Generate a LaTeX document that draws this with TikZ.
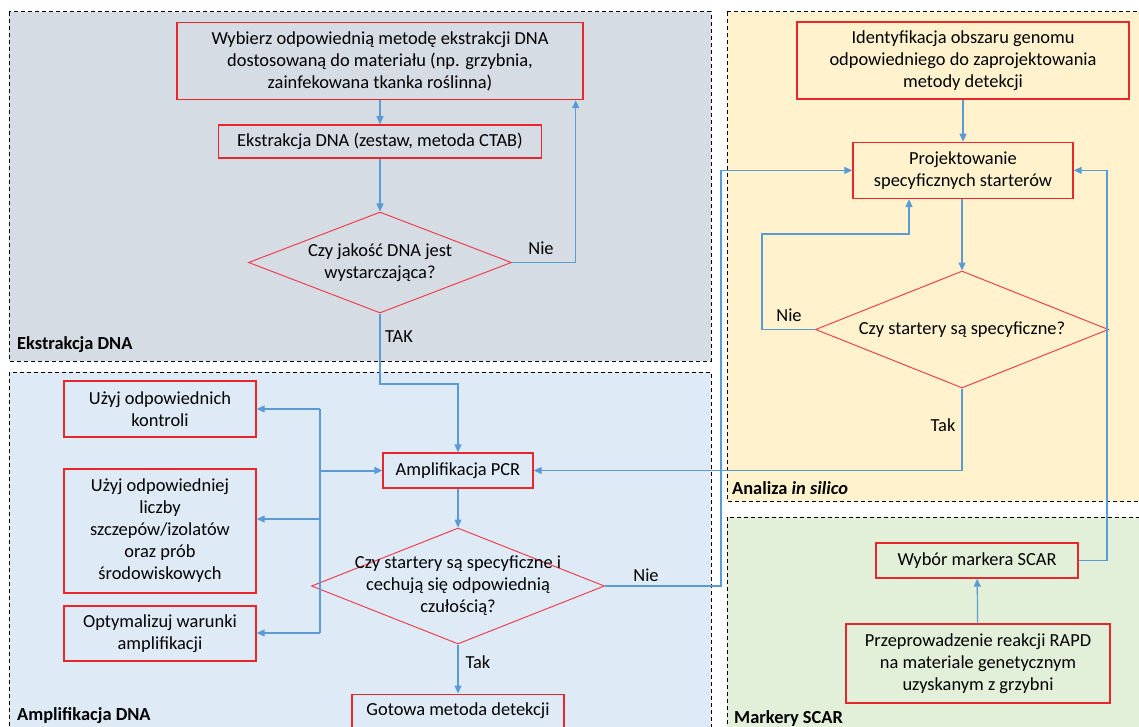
\documentclass[tikz,border=0pt]{standalone}
\usepackage{fontspec}
\setmainfont{Carlito}
\usetikzlibrary{positioning,shapes.geometric,arrows.meta}

\definecolor{ramka}{HTML}{E8262B}
\definecolor{romb}{HTML}{EE4152}
\definecolor{linia}{HTML}{5B9BD5}
\definecolor{szary}{HTML}{D5DCE4}
\definecolor{niebieski}{HTML}{DEEBF7}
\definecolor{zolty}{HTML}{FFF2CC}
\definecolor{zielony}{HTML}{E2F0D9}

\begin{document}
\begin{tikzpicture}[x=1pt, y=-1pt, >={Triangle[length=8pt,width=7pt]},
	every node/.style={font=\fontsize{18.4}{22}\selectfont},
	krok/.style={draw=ramka, line width=1.4pt, align=center, inner sep=0pt},
	pytanie/.style={draw=romb, line width=1pt, diamond, inner sep=0pt},
	panel/.style={draw=black, line width=1pt, dash pattern=on 4pt off 3pt},
	tytul/.style={anchor=west, inner sep=0pt, font=\fontsize{18.4}{22}\selectfont\bfseries},
	opis/.style={inner sep=0pt}]
			
			\useasboundingbox (0,0) rectangle (1139,727);
			\clip (0,0) rectangle (1139,727);
			
			% tła paneli
			\draw[panel, fill=szary] (9,12) rectangle (711,361);
			\draw[panel, fill=niebieski] (9,372) rectangle (711,745);
			\draw[panel, fill=zolty] (727,12) rectangle (1150,501);
			\draw[panel, fill=zielony] (727,517) rectangle (1150,745);
			
			% tytuły paneli
			\node[tytul] (tEkstr) at (17,345) {Ekstrakcja DNA};
			\node[tytul] (tAmpl) at (17,716) {Amplifikacja DNA};
			\node[tytul] (tAnal) at (732,488) {Analiza \textit{in silico}};
			\node[tytul] (tScar) at (734,718) {Markery SCAR};
			
			% ekstrakcja DNA
			\node[krok, minimum width=406pt, minimum height=77pt] (wyb) at (380,61) {Wybierz odpowiednią metodę ekstrakcji DNA\\dostosowaną do materiału (np. grzybnia,\\zainfekowana tkanka roślinna)};
			\node[krok, minimum width=323pt, minimum height=33pt, below=24pt of wyb] (ekstr) {Ekstrakcja DNA (zestaw, metoda CTAB)};
			\node[pytanie, minimum width=263pt, minimum height=101pt] (d1) at (380,262.5) {};
			\node[opis, align=center] (d1t) at (d1) {Czy jakość DNA jest\\wystarczająca?};
			
			% amplifikacja DNA
			\node[krok, minimum width=150pt, minimum height=35pt] (pcr) at (458,470.5) {Amplifikacja PCR};
			\node[pytanie, minimum width=293pt, minimum height=116pt] (d2) at (458,586) {};
			\node[opis, align=center] (d2t) at (d2) {Czy startery są specyficzne i\\cechują się odpowiednią\\czułością?};
			\node[krok, minimum width=212pt, minimum height=33pt, below=49pt of d2] (got) {Gotowa metoda detekcji};
			\node[krok, minimum width=192pt, minimum height=56pt] (k1) at (160,409) {Użyj odpowiednich\\kontroli};
			\node[krok, minimum width=192pt, minimum height=124pt] (k2) at (160,531) {Użyj odpowiedniej\\liczby\\szczepów/izolatów\\oraz prób\\środowiskowych};
			\node[krok, minimum width=192pt, minimum height=55pt] (k3) at (160,633.5) {Optymalizuj warunki\\amplifikacji};
			
			% analiza in silico
			\node[krok, minimum width=332pt, minimum height=77pt] (ident) at (963,60.5) {Identyfikacja obszaru genomu\\odpowiedniego do zaprojektowania\\metody detekcji};
			\node[krok, minimum width=220pt, minimum height=56pt, below=42pt of ident] (proj) {Projektowanie\\specyficznych starterów};
			\node[pytanie, minimum width=293pt, minimum height=117pt] (d3) at (962,329.5) {};
			\node[opis] (d3t) at (d3) {Czy startery są specyficzne?};
			
			% markery SCAR
			\node[krok, minimum width=202pt, minimum height=35pt] (wybor) at (977,560.5) {Wybór markera SCAR};
			\node[krok, minimum width=264pt, minimum height=79pt] (rapd) at (978,663.5) {Przeprowadzenie reakcji RAPD\\na materiale genetycznym\\uzyskanym z grzybni};
			
			% punkty załamania
			\coordinate (z1) at (380,384);
			\coordinate (z2) at (721,586);
			\coordinate (z3) at (762,234);
			\coordinate (z4) at (1107,560.5);
			\coordinate (b1) at (320,409);
			\coordinate (b2) at (320,519);
			\coordinate (b3) at (320,633);
			\coordinate (b0) at (320,470.5);
			
			% strzałki
			\begin{scope}[draw=linia, line width=1.2pt]
			\draw[->] (wyb)--(ekstr);
			\draw[->] (ekstr)--(d1);
			\draw[->] (d1.east) -| ([xshift=-8pt]wyb.south east);
			\draw[->] (d1.south)--(z1) -| (pcr.north);
			\draw[->] (pcr)--(d2);
			\draw[->] (d2)--(got);
			\draw[->] (d2.east)--(z2) |- (proj.west);
			\draw[->] (ident)--(proj);
			\draw[->] ([xshift=-1pt]proj.south)--(d3.north);
			\draw[->] (d3.west) -| (z3) -| ([xshift=-54pt]proj.south);
			\draw[->] (d3.south) |- (pcr.east);
			\draw[->] (wybor.east)--(z4) |- (proj.east);
			\draw[->] (rapd)--(wybor);
			
			% rozgałęzienie przy PCR
			\draw (b1)--(b3);
			\draw[->, line width=2pt] (b0)--(pcr.west);
			\draw[->] (b1)--(k1.east);
			\draw[->] (b2)--(b2 -| k2.east);
			\draw[->] (b3)--(b3 -| k3.east);
			\end{scope}
			
			% napisy przy strzałkach
			\node[opis] (nie1) at (541,248) {Nie};
			\node[opis] (tak1) at (399,337) {TAK};
			\node[opis] (tak2) at (478,662) {Tak};
			\node[opis] (nie2) at (646,575) {Nie};
			\node[opis] (nie3) at (789,315) {Nie};
			\node[opis] (tak3) at (943,425) {Tak};
			
		\end{tikzpicture}
\end{document}
